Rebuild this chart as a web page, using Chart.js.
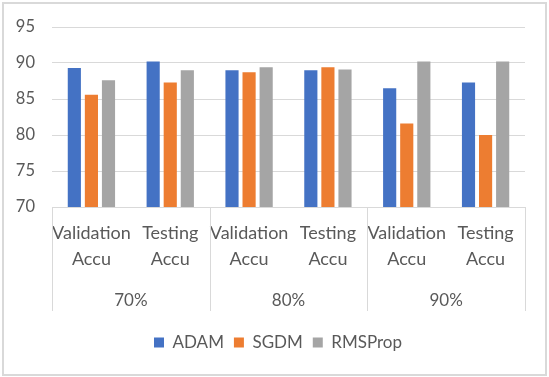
<!DOCTYPE html>
<html>
<head>
<meta charset="utf-8">
<script src="https://cdn.jsdelivr.net/npm/chart.js@4.4.1/dist/chart.umd.min.js"></script>
<style>
  html, body { margin: 0; padding: 0; background: #fff; }
  #wrap { width: 549px; height: 377px; position: relative; }
</style>
</head>
<body>
<div id="wrap"><canvas id="c" width="549" height="377"></canvas></div>
<script>
// ---- data ----
const groups = ['70%', '80%', '90%'];
const metrics = [['Validation', 'Accu'], ['Testing', 'Accu']];
const seriesNames = ['ADAM', 'SGDM', 'RMSProp'];
const adam    = [89.3, 90.2, 89.0, 89.0, 86.5, 87.3];
const sgdm    = [85.6, 87.3, 88.7, 89.4, 81.6, 80.0];
const rmsprop = [87.6, 89.0, 89.4, 89.1, 90.2, 90.2];
const yTicks  = [70, 75, 80, 85, 90, 95];

const categories = [];
groups.forEach(() => metrics.forEach(m => categories.push(m)));

const textColor = '#595959';
const gridColor = '#d9d9d9';
const fontFamily = 'Lato, "Liberation Sans", sans-serif';

const frame = {
  id: 'frame',
  afterLayout(chart) {
    // nudge legend to sit slightly right of centre, as in the original
    const lg = chart.legend;
    if (lg) { lg.left += 9; lg.right += 9; }
  },
  beforeDraw(chart) {
    const ctx = chart.ctx;
    ctx.save();
    ctx.fillStyle = '#fff';
    ctx.fillRect(0, 0, chart.width, chart.height);
    ctx.strokeStyle = gridColor;
    ctx.lineWidth = 2;
    ctx.strokeRect(3, 3, chart.width - 6, chart.height - 5);
    ctx.restore();
  },
  afterDraw(chart) {
    const ctx = chart.ctx;
    const x2 = chart.scales.x2;
    const area = chart.chartArea;
    const half = (x2.getPixelForValue(1) - x2.getPixelForValue(0)) / 2;
    ctx.save();
    ctx.strokeStyle = gridColor;
    ctx.lineWidth = 1;
    const yEnd = x2.bottom - 13;
    for (let i = 0; i <= groups.length; i++) {
      const px = Math.round(x2.getPixelForValue(0) - half + i * 2 * half) + 0.5;
      ctx.beginPath();
      ctx.moveTo(px, area.bottom);
      ctx.lineTo(px, yEnd);
      ctx.stroke();
    }
    ctx.restore();
  }
};

new Chart(document.getElementById('c'), {
  type: 'bar',
  data: {
    labels: categories,
    datasets: [
      { label: seriesNames[0], data: adam,    backgroundColor: '#4472C4' },
      { label: seriesNames[1], data: sgdm,    backgroundColor: '#ED7D31' },
      { label: seriesNames[2], data: rmsprop, backgroundColor: '#A5A5A5' }
    ]
  },
  options: {
    responsive: false,
    animation: false,
    devicePixelRatio: 1,
    layout: { padding: { left: 13, right: 24, top: 27, bottom: 16 } },
    datasets: { bar: { categoryPercentage: 0.65, barPercentage: 0.77 } },
    scales: {
      y: {
        min: 70, max: 95,
        afterBuildTicks: s => { s.ticks = yTicks.map(v => ({ value: v })); },
        afterFit: s => { s.width = 39; },
        grid: { color: gridColor, drawTicks: false },
        border: { display: false },
        ticks: { color: textColor, padding: 17, font: { family: fontFamily, size: 16.5 } }
      },
      x: {
        grid: { display: false, drawTicks: false },
        border: { display: true, color: gridColor },
        afterFit: s => { s.height = 69; },
        ticks: { color: textColor, padding: 13, maxRotation: 0, autoSkip: false,
                 font: { family: fontFamily, size: 18, lineHeight: 1.45 } }
      },
      x2: {
        type: 'category',
        position: 'bottom',
        labels: groups,
        offset: true,
        grid: { display: false, drawTicks: false },
        border: { display: false },
        afterFit: s => { s.height = 48; },
        ticks: { color: textColor, padding: 14, maxRotation: 0,
                 font: { family: fontFamily, size: 17 } }
      }
    },
    plugins: {
      legend: {
        position: 'bottom',
        labels: { color: textColor, boxWidth: 10, boxHeight: 10, padding: 10,
                  font: { family: fontFamily, size: 17 } }
      },
      tooltip: { enabled: false }
    }
  },
  plugins: [frame]
});
</script>
</body>
</html>
